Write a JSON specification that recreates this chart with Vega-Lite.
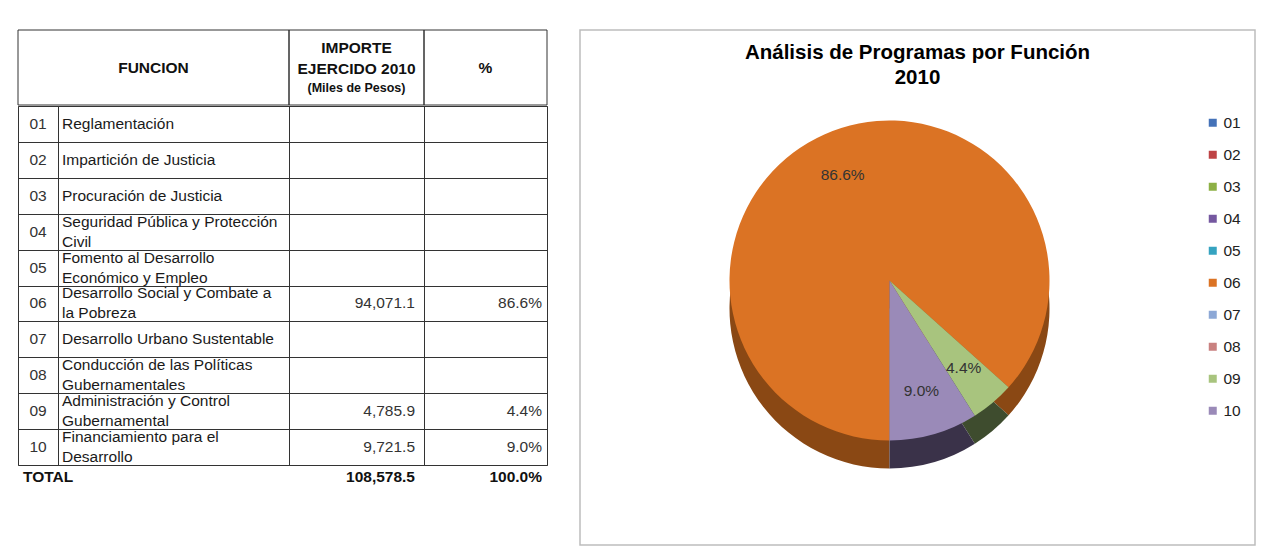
{
  "$schema": "https://vega.github.io/schema/vega-lite/v6.json",
  "padding": {"left": 17, "top": 29, "right": 22, "bottom": 12},
  "background": "white",
  "spacing": 31,
  "config": {
    "view": {"stroke": "#333333", "strokeWidth": 1},
    "font": "Liberation Sans",
    "text": {"font": "Liberation Sans", "fontSize": 15.5, "color": "#1a1a1a"},
    "concat": {"spacing": 0}
  },
  "datasets": {
    "rows": [
      {"code": "01", "name": "Reglamentación", "importe": null, "pct": null},
      {"code": "02", "name": "Impartición de Justicia", "importe": null, "pct": null},
      {"code": "03", "name": "Procuración de Justicia", "importe": null, "pct": null},
      {"code": "04", "name": "Seguridad Pública y Protección\nCivil", "importe": null, "pct": null},
      {"code": "05", "name": "Fomento al Desarrollo\nEconómico y Empleo", "importe": null, "pct": null},
      {"code": "06", "name": "Desarrollo Social y Combate a\nla Pobreza", "importe": 94071.1, "pct": 0.866},
      {"code": "07", "name": "Desarrollo Urbano Sustentable", "importe": null, "pct": null},
      {"code": "08", "name": "Conducción de las Políticas\nGubernamentales", "importe": null, "pct": null},
      {"code": "09", "name": "Administración y Control\nGubernamental", "importe": 4785.9, "pct": 0.044},
      {"code": "10", "name": "Financiamiento para el\nDesarrollo", "importe": 9721.5, "pct": 0.09}
    ],
    "headers": [
      {"col": "funcion", "label": "FUNCION", "sub": ""},
      {"col": "importe", "label": "IMPORTE\nEJERCIDO 2010", "sub": "(Miles de Pesos)"},
      {"col": "pct", "label": "%", "sub": ""},
      {"col": "total", "label": "TOTAL", "sub": ""}
    ]
  },
  "hconcat": [
    {
      "spacing": -5,
      "vconcat": [
        {
          "spacing": 0,
          "bounds": "flush",
          "hconcat": [
            {
              "width": 271, "height": 75,
              "data": {"name": "headers"},
              "transform": [{"filter": "datum.col == 'funcion'"}],
              "layer": [
                {"mark": {"type": "rect", "fill": null, "stroke": "#333333", "strokeWidth": 1}, "encoding": {}},
                {"mark": {"type": "text", "fontWeight": "bold", "fontSize": 15.5, "color": "#111111"},
                 "encoding": {"text": {"field": "label", "type": "nominal"}}}
              ]
            },
            {
              "width": 135, "height": 75,
              "data": {"name": "headers"},
              "transform": [{"filter": "datum.col == 'importe'"}],
              "layer": [
                {"mark": {"type": "rect", "fill": null, "stroke": "#333333", "strokeWidth": 1}, "encoding": {}},
                {
                  "mark": {"type": "text", "fontWeight": "bold", "fontSize": 15.5, "color": "#111111", "lineBreak": "\n", "lineHeight": 21, "dy": -20},
                  "encoding": {"text": {"field": "label", "type": "nominal"}}
                },
                {
                  "mark": {"type": "text", "fontWeight": "bold", "fontSize": 12.5, "color": "#111111", "dy": 20},
                  "encoding": {"text": {"field": "sub", "type": "nominal"}}
                }
              ]
            },
            {
              "width": 123, "height": 75,
              "data": {"name": "headers"},
              "transform": [{"filter": "datum.col == 'pct'"}],
              "layer": [
                {"mark": {"type": "rect", "fill": null, "stroke": "#333333", "strokeWidth": 1}, "encoding": {}},
                {"mark": {"type": "text", "fontWeight": "bold", "fontSize": 15.5, "color": "#111111"},
                 "encoding": {"text": {"field": "label", "type": "nominal"}}}
              ]
            }
          ]
        },
        {
          "spacing": 0,
          "bounds": "flush",
          "hconcat": [
            {
              "width": 40, "height": 359,
              "data": {"name": "rows"},
              "mark": {"type": "text", "color": "#333333"},
              "encoding": {
                "y": {"field": "code", "type": "ordinal", "scale": {"type": "band", "paddingInner": 0, "paddingOuter": 0},
                      "axis": {"grid": true, "tickBand": "extent", "labels": false, "ticks": false, "domain": false, "title": null, "gridColor": "#333333", "gridOpacity": 1, "gridWidth": 1}},
                "text": {"field": "code", "type": "nominal"}
              }
            },
            {
              "width": 231, "height": 359,
              "data": {"name": "rows"},
              "encoding": {
                "y": {"field": "code", "type": "ordinal", "scale": {"type": "band", "paddingInner": 0, "paddingOuter": 0},
                      "axis": {"grid": true, "tickBand": "extent", "labels": false, "ticks": false, "domain": false, "title": null, "gridColor": "#333333", "gridOpacity": 1, "gridWidth": 1}},
                "text": {"field": "name", "type": "nominal"}
              },
              "layer": [
                {
                  "transform": [{"filter": "indexof(datum.name, '\\n') < 0"}],
                  "mark": {"type": "text", "align": "left", "x": 0, "dx": 4}
                },
                {
                  "transform": [{"filter": "indexof(datum.name, '\\n') >= 0"}],
                  "mark": {"type": "text", "align": "left", "x": 0, "dx": 4, "dy": -10, "lineBreak": "\n", "lineHeight": 20}
                }
              ]
            },
            {
              "width": 135, "height": 359,
              "data": {"name": "rows"},
              "mark": {"type": "text", "align": "right", "x": "width", "dx": -9, "color": "#333333"},
              "encoding": {
                "y": {"field": "code", "type": "ordinal", "scale": {"type": "band", "paddingInner": 0, "paddingOuter": 0},
                      "axis": {"grid": true, "tickBand": "extent", "labels": false, "ticks": false, "domain": false, "title": null, "gridColor": "#333333", "gridOpacity": 1, "gridWidth": 1}},
                "text": {"condition": {"test": "datum.importe == null", "value": ""}, "field": "importe", "type": "quantitative", "format": ",.1f"}
              }
            },
            {
              "width": 123, "height": 359,
              "data": {"name": "rows"},
              "mark": {"type": "text", "align": "right", "x": "width", "dx": -5, "color": "#333333"},
              "encoding": {
                "y": {"field": "code", "type": "ordinal", "scale": {"type": "band", "paddingInner": 0, "paddingOuter": 0},
                      "axis": {"grid": true, "tickBand": "extent", "labels": false, "ticks": false, "domain": false, "title": null, "gridColor": "#333333", "gridOpacity": 1, "gridWidth": 1}},
                "text": {"condition": {"test": "datum.pct == null", "value": ""}, "field": "pct", "type": "quantitative", "format": ".1%"}
              }
            }
          ]
        },
        {
          "spacing": 0,
          "bounds": "flush",
          "hconcat": [
            {
              "width": 271, "height": 24,
              "view": {"stroke": null},
              "data": {"name": "headers"},
              "transform": [{"filter": "datum.col == 'total'"}],
              "mark": {"type": "text", "fontWeight": "bold", "align": "left", "x": 0, "dx": 5, "dy": -2, "color": "#111111"},
              "encoding": {"text": {"field": "label", "type": "nominal"}}
            },
            {
              "width": 135, "height": 24,
              "view": {"stroke": null},
              "data": {"name": "rows"},
              "transform": [{"aggregate": [{"op": "sum", "field": "importe", "as": "importe"}]}],
              "mark": {"type": "text", "fontWeight": "bold", "align": "right", "x": "width", "dx": -9, "dy": -2, "color": "#111111"},
              "encoding": {"text": {"field": "importe", "type": "quantitative", "format": ",.1f"}}
            },
            {
              "width": 123, "height": 24,
              "view": {"stroke": null},
              "data": {"name": "rows"},
              "transform": [{"aggregate": [{"op": "sum", "field": "pct", "as": "pct"}]}],
              "mark": {"type": "text", "fontWeight": "bold", "align": "right", "x": "width", "dx": -5, "dy": -2, "color": "#111111"},
              "encoding": {"text": {"field": "pct", "type": "quantitative", "format": ".1%"}}
            }
          ]
        }
      ]
    },
    {
      "width": 675, "height": 515,
      "view": {"stroke": "#BDBDBD", "strokeWidth": 1.5},
      "title": {"text": ["Análisis de Programas por Función", "2010"], "fontSize": 20.5, "font": "Liberation Sans", "fontWeight": "bold", "color": "#000000", "anchor": "middle", "offset": -58, "baseline": "top", "lineHeight": 25},
      "data": {"name": "rows"},
      "encoding": {
        "theta": {"field": "importe", "type": "quantitative", "stack": true, "scale": {"range": [3.14159265, 9.42477796]}},
        "order": {"field": "code", "sort": "ascending"}
      },
      "resolve": {"scale": {"color": "independent"}, "legend": {"color": "independent"}},
      "layer": [
        {
          "mark": {"type": "arc", "outerRadius": 160, "xOffset": -28, "yOffset": 21},
          "encoding": {
            "color": {"field": "code", "type": "nominal", "legend": null,
                     "scale": {"domain": ["01","02","03","04","05","06","07","08","09","10"],
                               "range": ["#223f66","#6e2526","#4c5f24","#3e2f58","#1f5b6a","#8a4814","#4d5e7c","#6e4443","#3e4c2e","#3a3249"]}}
          }
        },
        {
          "mark": {"type": "arc", "outerRadius": 160, "xOffset": -28, "yOffset": -7},
          "encoding": {
            "color": {"field": "code", "type": "nominal",
                      "scale": {"domain": ["01","02","03","04","05","06","07","08","09","10"],
                                "range": ["#4472B8","#BE4345","#8DB045","#7558A0","#35A3C0","#DB7324","#8DA8D6","#C98180","#A8C47E","#9A8AB8"]},
                      "legend": {"orient": "none", "legendX": 625, "legendY": 85, "title": null, "symbolType": "square", "symbolSize": 64, "symbolStrokeWidth": 0, "labelFontSize": 15.5, "labelFont": "Liberation Sans", "labelColor": "#222222", "rowPadding": 15, "labelOffset": 3}}
          }
        },
        {
          "mark": {"type": "text", "radius": 115, "xOffset": -28, "yOffset": -7, "fontSize": 15.5, "color": "#333333"},
          "encoding": {
            "detail": {"field": "code", "type": "nominal"},
            "text": {"condition": {"test": "datum.pct == null", "value": ""}, "field": "pct", "type": "quantitative", "format": ".1%"}
          }
        }
      ]
    }
  ]
}
